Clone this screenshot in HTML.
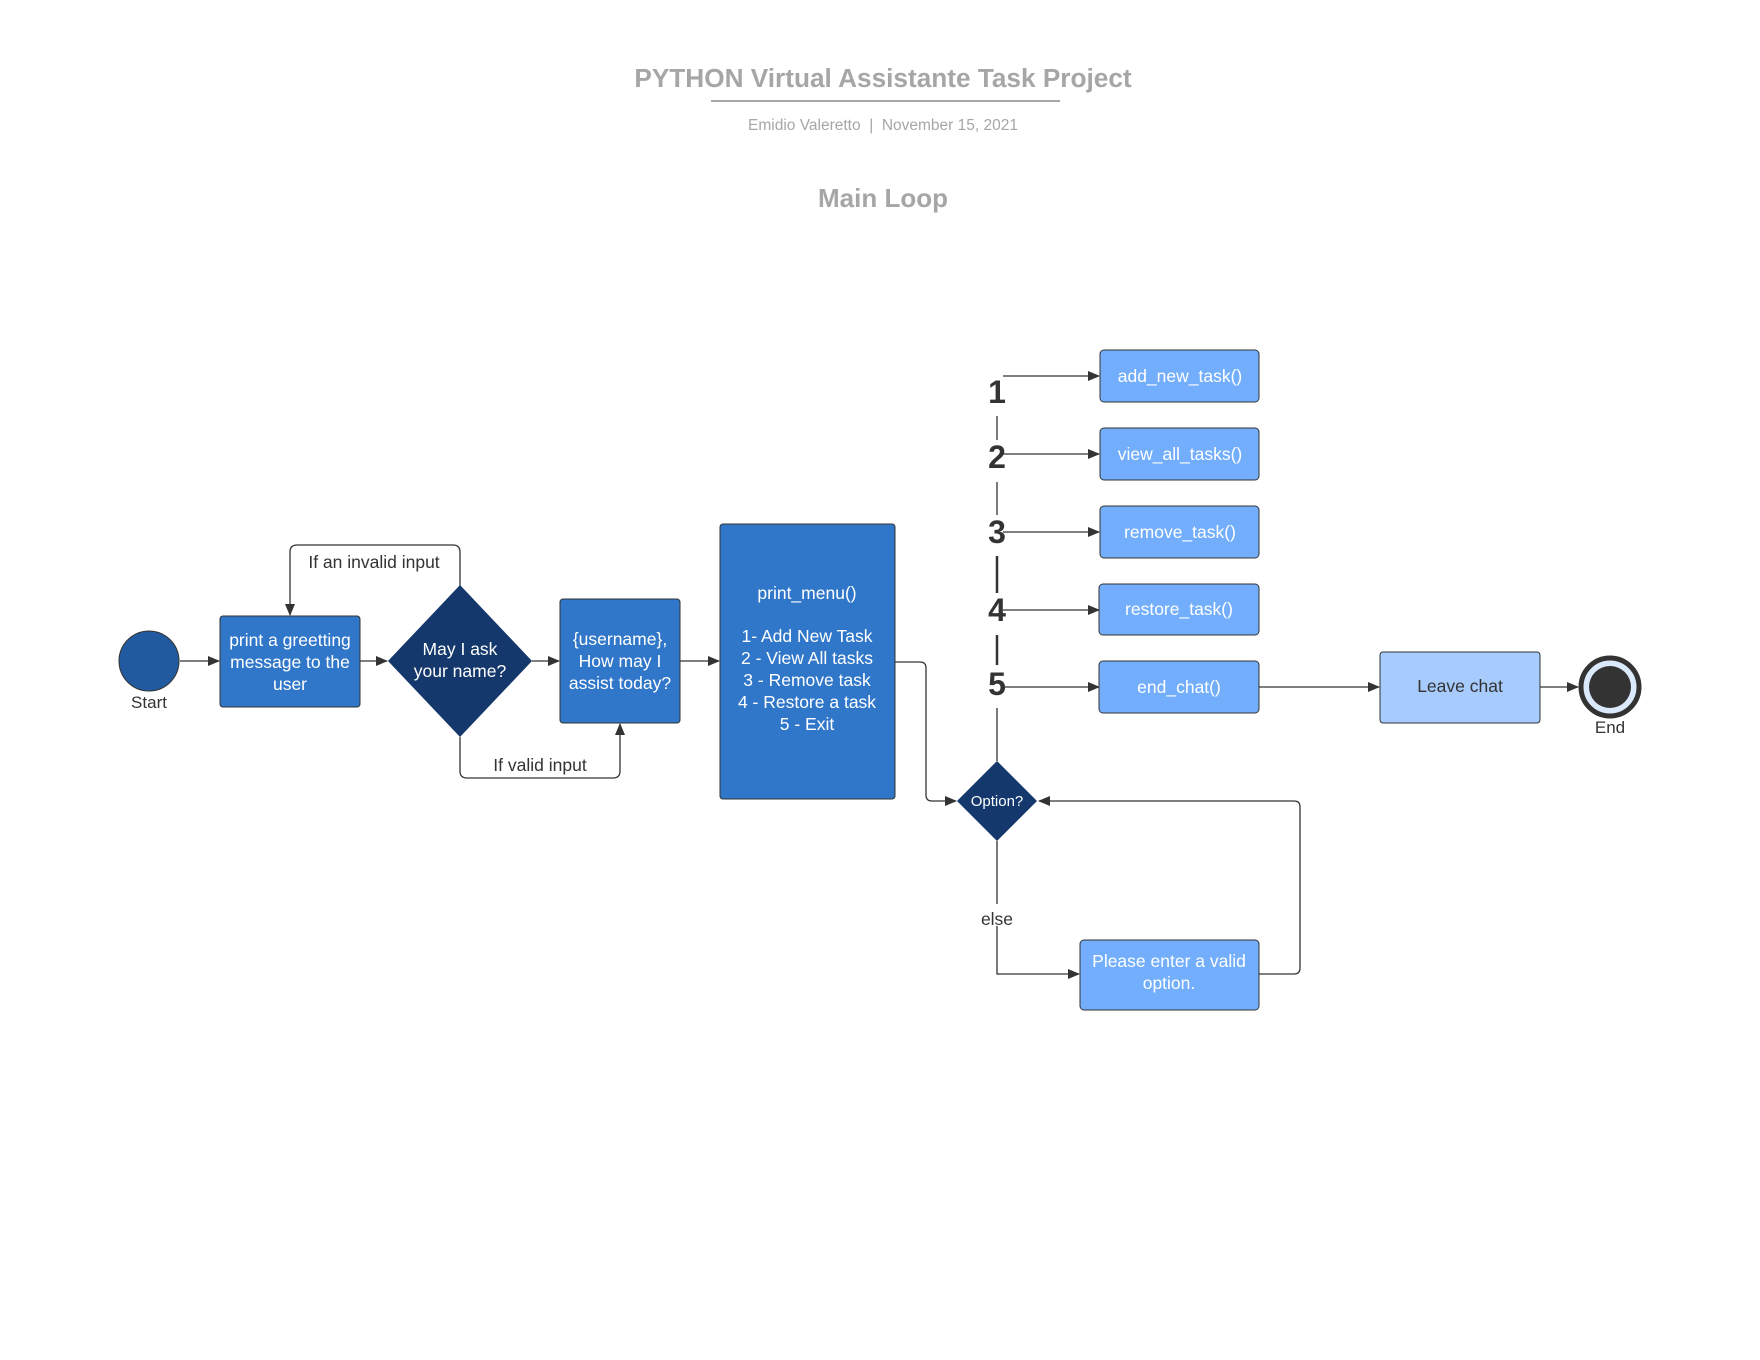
<!DOCTYPE html>
<html><head><meta charset="utf-8"><style>
html,body{margin:0;padding:0;background:#fff}
svg{display:block}
text{font-family:"Liberation Sans",sans-serif}
</style></head><body>
<svg width="1760" height="1360" viewBox="0 0 1760 1360" xmlns="http://www.w3.org/2000/svg">
<defs>
<marker id="a" markerWidth="12" markerHeight="10" refX="11" refY="5" orient="auto" markerUnits="userSpaceOnUse">
<path d="M0,0 L12,5 L0,10 z" fill="#333"/></marker>
</defs>
<text x="883" y="87" text-anchor="middle" font-size="26.2" font-weight="bold" fill="#a6a6a6">PYTHON Virtual Assistante Task Project</text>
<line x1="711" y1="101" x2="1060" y2="101" stroke="#a6a6a6" stroke-width="2"/>
<text x="883" y="130" text-anchor="middle" font-size="15.5" fill="#a6a6a6" xml:space="preserve">Emidio Valeretto  |  November 15, 2021</text>
<text x="883" y="207" text-anchor="middle" font-size="26" font-weight="bold" fill="#a6a6a6">Main Loop</text>

<g stroke="#333" stroke-width="1.3" fill="none">
<line x1="180" y1="661" x2="219" y2="661" marker-end="url(#a)"/>
<line x1="360" y1="661" x2="387" y2="661" marker-end="url(#a)"/>
<line x1="532" y1="661" x2="559" y2="661" marker-end="url(#a)"/>
<line x1="680" y1="661" x2="719" y2="661" marker-end="url(#a)"/>
<path d="M460,586 V552 Q460,545 453,545 H297 Q290,545 290,552 V615" marker-end="url(#a)"/>
<path d="M460,737 V771 Q460,778 467,778 H613 Q620,778 620,771 V724" marker-end="url(#a)"/>
<path d="M895,662 H920 Q926,662 926,668 V795 Q926,801 932,801 H956" marker-end="url(#a)"/>
<path d="M997,841 V974 H1079" marker-end="url(#a)"/>
<path d="M1259,974 H1294 Q1300,974 1300,968 V807 Q1300,801 1294,801 H1039" marker-end="url(#a)"/>
<path d="M1003,376 H1099" marker-end="url(#a)"/>
<path d="M1003,454 H1099" marker-end="url(#a)"/>
<path d="M1003,532 H1099" marker-end="url(#a)"/>
<path d="M1003,610 H1099" marker-end="url(#a)"/>
<path d="M1003,687 H1099" marker-end="url(#a)"/>
<path d="M1259,687 H1379" marker-end="url(#a)"/>
<path d="M1540,687 H1578" marker-end="url(#a)"/>
<line x1="997" y1="416" x2="997" y2="440"/>
<line x1="997" y1="482" x2="997" y2="515"/>
<line x1="997" y1="556" x2="997" y2="593"/>
<line x1="997" y1="635" x2="997" y2="665"/>
<line x1="997" y1="708" x2="997" y2="761"/>
</g>
<g stroke="#333" stroke-width="2.5"><line x1="997" y1="556" x2="997" y2="593"/><line x1="997" y1="635" x2="997" y2="665"/></g>

<circle cx="149" cy="661" r="30" fill="#215a9e" stroke="#333" stroke-width="1"/>
<text x="149" y="708" text-anchor="middle" font-size="17" fill="#333">Start</text>

<rect x="220" y="616" width="140" height="91" rx="3" fill="#3077c9" stroke="#333" stroke-width="1"/>
<text text-anchor="middle" font-size="17.5" fill="#fff"><tspan x="290" y="646">print a greetting</tspan><tspan x="290" y="668">message to the</tspan><tspan x="290" y="690">user</tspan></text>

<polygon points="460,585 532,661 460,737 388,661" fill="#14386b"/>
<text text-anchor="middle" font-size="17.5" fill="#fff"><tspan x="460" y="655">May I ask</tspan><tspan x="460" y="677">your name?</tspan></text>
<text x="374" y="568" text-anchor="middle" font-size="17.5" fill="#333">If an invalid input</text>
<text x="540" y="771" text-anchor="middle" font-size="17.5" fill="#333">If valid input</text>

<rect x="560" y="599" width="120" height="124" rx="3" fill="#3077c9" stroke="#333" stroke-width="1"/>
<text text-anchor="middle" font-size="17.5" fill="#fff"><tspan x="620" y="645">{username},</tspan><tspan x="620" y="667">How may I</tspan><tspan x="620" y="689">assist today?</tspan></text>

<rect x="720" y="524" width="175" height="275" rx="3" fill="#3077c9" stroke="#333" stroke-width="1"/>
<text text-anchor="middle" font-size="17.5" fill="#fff"><tspan x="807" y="599">print_menu()</tspan><tspan x="807" y="642">1- Add New Task</tspan><tspan x="807" y="664">2 - View All tasks</tspan><tspan x="807" y="686">3 - Remove task</tspan><tspan x="807" y="708">4 - Restore a task</tspan><tspan x="807" y="730">5 - Exit</tspan></text>

<polygon points="997,761 1037,801 997,841 957,801" fill="#14386b"/>
<text x="997" y="806" text-anchor="middle" font-size="15" fill="#fff">Option?</text>
<rect x="978" y="904" width="38" height="22" fill="#fff"/>
<text x="997" y="925" text-anchor="middle" font-size="17.5" fill="#333">else</text>

<g font-size="32" font-weight="bold" fill="#333" text-anchor="middle">
<text x="997" y="403">1</text><text x="997" y="468">2</text><text x="997" y="543">3</text><text x="997" y="621">4</text><text x="997" y="695">5</text>
</g>

<g fill="#72aefc" stroke="#333" stroke-width="1">
<rect x="1100" y="350" width="159" height="52" rx="4"/>
<rect x="1100" y="428" width="159" height="52" rx="4"/>
<rect x="1100" y="506" width="159" height="52" rx="4"/>
<rect x="1099" y="584" width="160" height="51" rx="4"/>
<rect x="1099" y="661" width="160" height="52" rx="4"/>
<rect x="1080" y="940" width="179" height="70" rx="4"/>
</g>
<g font-size="17.5" fill="#fff" text-anchor="middle">
<text x="1180" y="382">add_new_task()</text>
<text x="1180" y="460">view_all_tasks()</text>
<text x="1180" y="538">remove_task()</text>
<text x="1179" y="615">restore_task()</text>
<text x="1179" y="693">end_chat()</text>
<text x="1169" y="967">Please enter a valid</text>
<text x="1169" y="989">option.</text>
</g>
<rect x="1380" y="652" width="160" height="71" rx="3" fill="#a6cbfc" stroke="#333" stroke-width="1"/>
<text x="1460" y="692" text-anchor="middle" font-size="17.5" fill="#333">Leave chat</text>

<circle cx="1610" cy="687" r="29" fill="#dbe9fd" stroke="#333" stroke-width="5"/>
<circle cx="1610" cy="687" r="21" fill="#333"/>
<text x="1610" y="733" text-anchor="middle" font-size="17" fill="#333">End</text>
</svg>
</body></html>
